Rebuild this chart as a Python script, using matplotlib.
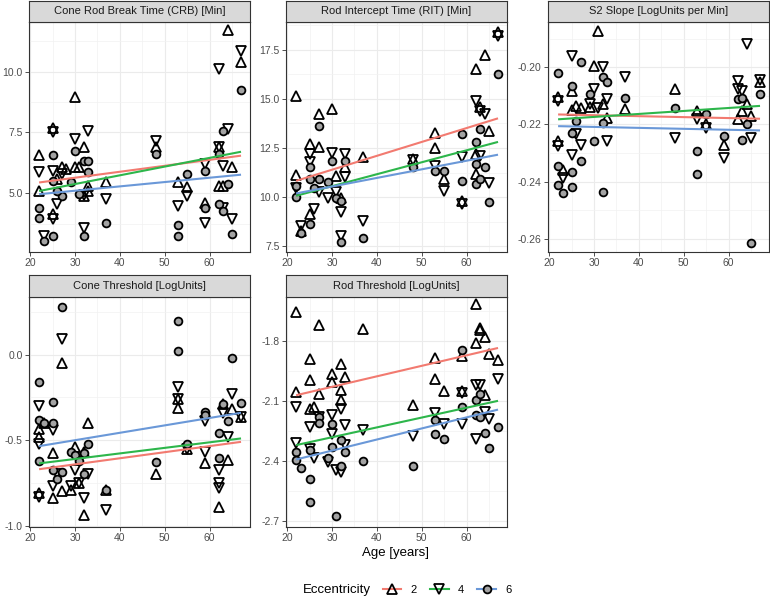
import matplotlib
matplotlib.use('Agg')
import matplotlib.pyplot as plt
from matplotlib.lines import Line2D
from matplotlib.ticker import MultipleLocator, FormatStrFormatter

plt.rcParams['font.family'] = ['Liberation Sans', 'DejaVu Sans']

# ---- data ----
fit_age = [22, 67]

# Cone Rod Break Time
crb_age_2 = [22, 22, 25, 25, 27, 30, 30, 31, 32, 32, 33, 37, 48, 53, 55, 59, 62, 62, 64, 63, 65, 67, 26, 28, 33]
crb_val_2 = [6.58, 5.1, 7.7, 4.15, 6.07, 8.95, 6.07, 6.07, 6.9, 4.9, 5.3, 5.45, 6.9, 5.45, 5.25, 4.6, 6.9, 5.3, 11.7, 5.3, 6.07, 10.4, 5.6, 6.0, 5.1]
crb_age_4 = [22, 23, 25, 25, 25, 26, 30, 33, 32, 37, 48, 53, 55, 59, 59, 62, 62, 63, 64, 65, 67, 63, 27, 32]
crb_val_4 = [5.86, 3.26, 7.5, 5.93, 3.95, 4.56, 7.23, 7.57, 3.6, 4.77, 7.16, 4.5, 4.9, 3.8, 6.2, 10.1, 6.9, 4.42, 7.64, 3.95, 10.86, 6.14, 5.8, 4.95]
crb_age_6 = [22, 22, 23, 25, 25, 27, 29, 30, 31, 32, 32, 33, 33, 37, 48, 53, 53, 55, 59, 59, 62, 62, 63, 63, 64, 65, 67, 26, 25]
crb_val_6 = [4.42, 4.01, 3.05, 6.58, 3.26, 4.9, 5.45, 6.75, 4.97, 6.34, 3.26, 6.34, 5.86, 3.77, 6.6, 3.71, 3.26, 5.8, 5.93, 4.42, 4.56, 6.6, 7.58, 4.3, 5.38, 3.33, 9.26, 5.1, 5.5]
crb_fit_2 = [5.45, 6.55]
crb_fit_4 = [5.10, 6.71]
crb_fit_6 = [4.97, 5.77]

# Rod Intercept Time
rit_age_2 = [22, 22, 23, 25, 25, 27, 27, 30, 31, 33, 37, 48, 53, 53, 55, 59, 62, 62, 62, 63, 64, 65, 67, 32]
rit_val_2 = [15.14, 11.14, 8.28, 12.7, 9.13, 14.23, 12.53, 14.47, 11.09, 11.51, 12.06, 11.94, 13.25, 12.5, 10.92, 9.81, 16.53, 12.19, 11.17, 14.57, 17.21, 13.38, 18.4, 9.98]
rit_age_4 = [22, 23, 25, 25, 26, 27, 29, 30, 31, 32, 32, 33, 33, 37, 48, 53, 55, 59, 59, 62, 63, 64, 63, 65, 67]
rit_val_4 = [10.49, 8.54, 12.19, 11.77, 9.39, 10.24, 9.98, 12.23, 10.24, 9.27, 8.03, 12.19, 11.0, 8.79, 11.89, 11.6, 10.32, 12.02, 9.64, 14.91, 14.4, 14.23, 12.1, 10.7, 18.18]
rit_age_6 = [22, 22, 23, 25, 25, 25, 26, 27, 27, 29, 30, 31, 32, 32, 33, 37, 48, 53, 55, 59, 59, 62, 62, 62, 63, 63, 64, 65, 67]
rit_val_6 = [10.02, 10.58, 8.2, 8.62, 11.51, 10.92, 10.49, 13.64, 10.92, 10.75, 11.82, 9.98, 9.81, 7.74, 11.85, 7.91, 11.51, 11.31, 11.31, 13.21, 10.83, 12.79, 10.66, 11.68, 13.47, 10.92, 11.51, 9.73, 16.24]
rit_fit_2 = [10.83, 14.01]
rit_fit_4 = [10.07, 12.81]
rit_fit_6 = [10.19, 12.16]

# S2 Slope
s2_age_2 = [22, 22, 23, 25, 26, 27, 30, 31, 32, 33, 37, 48, 53, 55, 59, 62, 63, 64, 65, 67, 29, 25]
s2_val_2 = [-0.2104, -0.2259, -0.2359, -0.2082, -0.2135, -0.2141, -0.1994, -0.1871, -0.2129, -0.2176, -0.2147, -0.2076, -0.2153, -0.2200, -0.2271, -0.2182, -0.2153, -0.2129, -0.2171, -0.2053, -0.2140, -0.2150]
s2_age_4 = [22, 22, 23, 25, 25, 26, 27, 29, 30, 31, 32, 33, 33, 37, 48, 53, 55, 59, 62, 63, 64, 65, 67, 62]
s2_val_4 = [-0.2118, -0.2276, -0.2388, -0.1959, -0.2306, -0.2235, -0.2271, -0.2129, -0.2076, -0.2141, -0.1998, -0.2112, -0.2259, -0.2035, -0.2247, -0.2182, -0.2212, -0.2318, -0.2047, -0.2082, -0.1918, -0.2247, -0.2045, -0.2076]
s2_age_6 = [22, 22, 22, 23, 25, 25, 25, 25, 26, 27, 27, 29, 30, 32, 32, 32, 33, 37, 48, 53, 53, 55, 59, 62, 63, 63, 64, 65, 67]
s2_val_6 = [-0.2021, -0.2347, -0.2412, -0.2441, -0.2065, -0.2229, -0.2418, -0.2365, -0.2188, -0.1982, -0.2329, -0.2094, -0.2259, -0.2035, -0.2435, -0.2194, -0.2053, -0.2109, -0.2141, -0.2292, -0.2374, -0.2165, -0.2241, -0.2112, -0.2106, -0.2256, -0.2200, -0.2614, -0.2092]
s2_fit_2 = [-0.2165, -0.2180]
s2_fit_4 = [-0.2182, -0.2135]
s2_fit_6 = [-0.2206, -0.2221]

# Cone Threshold
ct_age_2 = [22, 22, 22, 23, 25, 25, 27, 27, 29, 30, 31, 32, 32, 33, 37, 48, 53, 55, 59, 62, 63, 64, 65, 67, 53]
ct_val_2 = [-0.432, -0.48, -0.807, -0.40, -0.578, -0.84, -0.049, -0.80, -0.79, -0.54, -0.75, -0.94, -0.57, -0.40, -0.79, -0.70, -0.31, -0.55, -0.636, -0.893, -0.286, -0.617, -0.315, -0.364, -0.26]
ct_age_4 = [22, 22, 22, 25, 25, 26, 27, 29, 30, 31, 32, 33, 37, 53, 53, 55, 59, 59, 62, 62, 62, 63, 64, 65, 67]
ct_val_4 = [-0.30, -0.52, -0.83, -0.44, -0.77, -0.70, 0.093, -0.77, -0.675, -0.75, -0.84, -0.70, -0.91, -0.19, -0.257, -0.55, -0.39, -0.57, -0.75, -0.78, -0.675, -0.344, -0.48, -0.228, -0.364]
ct_age_6 = [22, 22, 22, 23, 25, 25, 25, 26, 27, 27, 29, 30, 31, 32, 32, 33, 37, 48, 53, 53, 55, 59, 59, 62, 62, 63, 64, 65, 67]
ct_val_6 = [-0.16, -0.38, -0.62, -0.40, -0.276, -0.40, -0.675, -0.73, 0.278, -0.685, -0.568, -0.588, -0.62, -0.574, -0.70, -0.52, -0.79, -0.63, 0.197, 0.021, -0.52, -0.335, -0.354, -0.46, -0.607, -0.29, -0.39, -0.017, -0.28]
ct_fit_2 = [-0.670, -0.510]
ct_fit_4 = [-0.636, -0.490]
ct_fit_6 = [-0.535, -0.340]

# Rod Threshold
rt_age_2 = [22, 22, 25, 25, 25, 26, 27, 27, 30, 30, 32, 32, 32, 33, 37, 48, 53, 53, 55, 59, 59, 62, 62, 63, 63, 64, 64, 65, 67]
rt_val_2 = [-1.653, -2.053, -1.887, -1.995, -2.137, -2.128, -1.72, -2.062, -1.962, -2.003, -1.915, -2.045, -2.092, -1.978, -1.737, -2.12, -1.882, -1.987, -2.048, -1.875, -2.048, -1.615, -1.808, -1.733, -1.745, -1.778, -2.07, -1.865, -1.892]
rt_age_4 = [22, 22, 25, 25, 26, 27, 29, 30, 30, 31, 32, 32, 33, 33, 37, 48, 53, 55, 59, 59, 62, 62, 63, 64, 65, 67]
rt_val_4 = [-2.128, -2.308, -2.228, -2.337, -2.387, -2.178, -2.403, -2.17, -2.262, -2.445, -2.453, -2.137, -2.22, -2.32, -2.242, -2.273, -2.158, -2.212, -2.06, -2.215, -2.02, -2.287, -2.02, -2.153, -2.187, -1.987]
rt_age_6 = [22, 22, 23, 25, 25, 25, 27, 27, 29, 30, 30, 31, 32, 32, 33, 37, 48, 53, 53, 55, 59, 59, 62, 62, 63, 63, 64, 65, 67]
rt_val_6 = [-2.353, -2.395, -2.437, -2.345, -2.492, -2.607, -2.178, -2.208, -2.387, -2.212, -2.328, -2.675, -2.295, -2.425, -2.353, -2.4, -2.425, -2.192, -2.262, -2.29, -1.845, -2.128, -2.092, -2.17, -2.062, -2.178, -2.258, -2.333, -2.228]
rt_fit_2 = [-2.070, -1.833]
rt_fit_4 = [-2.320, -2.098]
rt_fit_6 = [-2.392, -2.142]

ecc_colors = {2: '#F27A70', 4: '#2DB64B', 6: '#6A98D8'}

W, H = 770, 608
fig = plt.figure(figsize=(W / 100, H / 100), dpi=100)


def px_rect(x0, y0, x1, y1):
    return [x0 / W, 1 - y1 / H, (x1 - x0) / W, (y1 - y0) / H]


panels = [
    ('Cone Rod Break Time (CRB) [Min]', (29, 22, 250, 252),
     [(crb_age_2, crb_val_2, crb_fit_2), (crb_age_4, crb_val_4, crb_fit_4), (crb_age_6, crb_val_6, crb_fit_6)],
     (2.6, 12.03), 2.5, '%.1f'),
    ('Rod Intercept Time (RIT) [Min]', (286, 22, 507, 252),
     [(rit_age_2, rit_val_2, rit_fit_2), (rit_age_4, rit_val_4, rit_fit_4), (rit_age_6, rit_val_6, rit_fit_6)],
     (7.21, 18.91), 2.5, '%.1f'),
    ('S2 Slope [LogUnits per Min]', (548, 22, 769, 252),
     [(s2_age_2, s2_val_2, s2_fit_2), (s2_age_4, s2_val_4, s2_fit_4), (s2_age_6, s2_val_6, s2_fit_6)],
     (-0.2647, -0.1841), 0.02, '%.2f'),
    ('Cone Threshold [LogUnits]', (29, 296.5, 250, 526.5),
     [(ct_age_2, ct_val_2, ct_fit_2), (ct_age_4, ct_val_4, ct_fit_4), (ct_age_6, ct_val_6, ct_fit_6)],
     (-1.005, 0.34), 0.5, '%.1f'),
    ('Rod Threshold [LogUnits]', (286, 296.5, 507, 526.5),
     [(rt_age_2, rt_val_2, rt_fit_2), (rt_age_4, rt_val_4, rt_fit_4), (rt_age_6, rt_val_6, rt_fit_6)],
     (-2.728, -1.575), 0.3, '%.1f'),
]

markers = {2: dict(marker='^', ms=6.5, mfc='none'),
           4: dict(marker='v', ms=6.5, mfc='none'),
           6: dict(marker='o', ms=5.6, mfc='#A3A3A3')}

for title, (x0, y0, x1, y1), series, ylim, step, fmt in panels:
    ax = fig.add_axes(px_rect(x0, y0, x1, y1))
    for ecc, (ages, vals, fit) in zip([2, 4, 6], series):
        ax.plot(ages, vals, ls='none', mec='black', mew=1.3, zorder=3, **markers[ecc])
    for ecc, (ages, vals, fit) in zip([2, 4, 6], series):
        ax.plot(fit_age, fit, color=ecc_colors[ecc], lw=1.5, zorder=4, solid_capstyle='butt')
    ax.set_xlim(19.75, 69.0)
    ax.set_ylim(*ylim)
    ax.xaxis.set_major_locator(MultipleLocator(10))
    ax.xaxis.set_minor_locator(MultipleLocator(5))
    ax.yaxis.set_major_locator(MultipleLocator(step))
    ax.yaxis.set_minor_locator(MultipleLocator(step / 2))
    ax.yaxis.set_major_formatter(FormatStrFormatter(fmt))
    ax.grid(which='major', color='#EBEBEB', lw=0.8, zorder=0)
    ax.grid(which='minor', color='#F2F2F2', lw=0.5, zorder=0)
    ax.set_axisbelow(True)
    ax.tick_params(which='major', length=3, width=0.6, color='#333333',
                   labelsize=7.5, labelcolor='#4D4D4D', pad=1.5)
    ax.tick_params(which='minor', length=0)
    for sp in ax.spines.values():
        sp.set_color('#333333')
        sp.set_linewidth(0.8)

    sax = fig.add_axes(px_rect(x0, y0 - 21.5, x1, y0))
    sax.set_facecolor('#D9D9D9')
    sax.set_xticks([])
    sax.set_yticks([])
    for sp in sax.spines.values():
        sp.set_color('#333333')
        sp.set_linewidth(0.8)
    sax.text(0.5, 0.5, title, ha='center', va='center', fontsize=8, color='#1A1A1A',
             transform=sax.transAxes)

fig.text(396 / W, 1 - 553 / H, 'Age [years]', ha='center', va='center', fontsize=9.5)

fig.text(303 / W, 1 - 590 / H, 'Eccentricity', ha='left', va='center', fontsize=9.5)
handles = [Line2D([], [], color=ecc_colors[e], lw=1.5, mec='black', mew=1.3, **markers[e])
           for e in [2, 4, 6]]
fig.legend(handles, ['2', '4', '6'], ncol=3, loc='center left',
           bbox_to_anchor=(377 / W, 1 - 590 / H), frameon=False, fontsize=8,
           handlelength=1.7, handletextpad=0.8, columnspacing=1.2, borderpad=0)

fig.savefig('out.png', dpi=100)
